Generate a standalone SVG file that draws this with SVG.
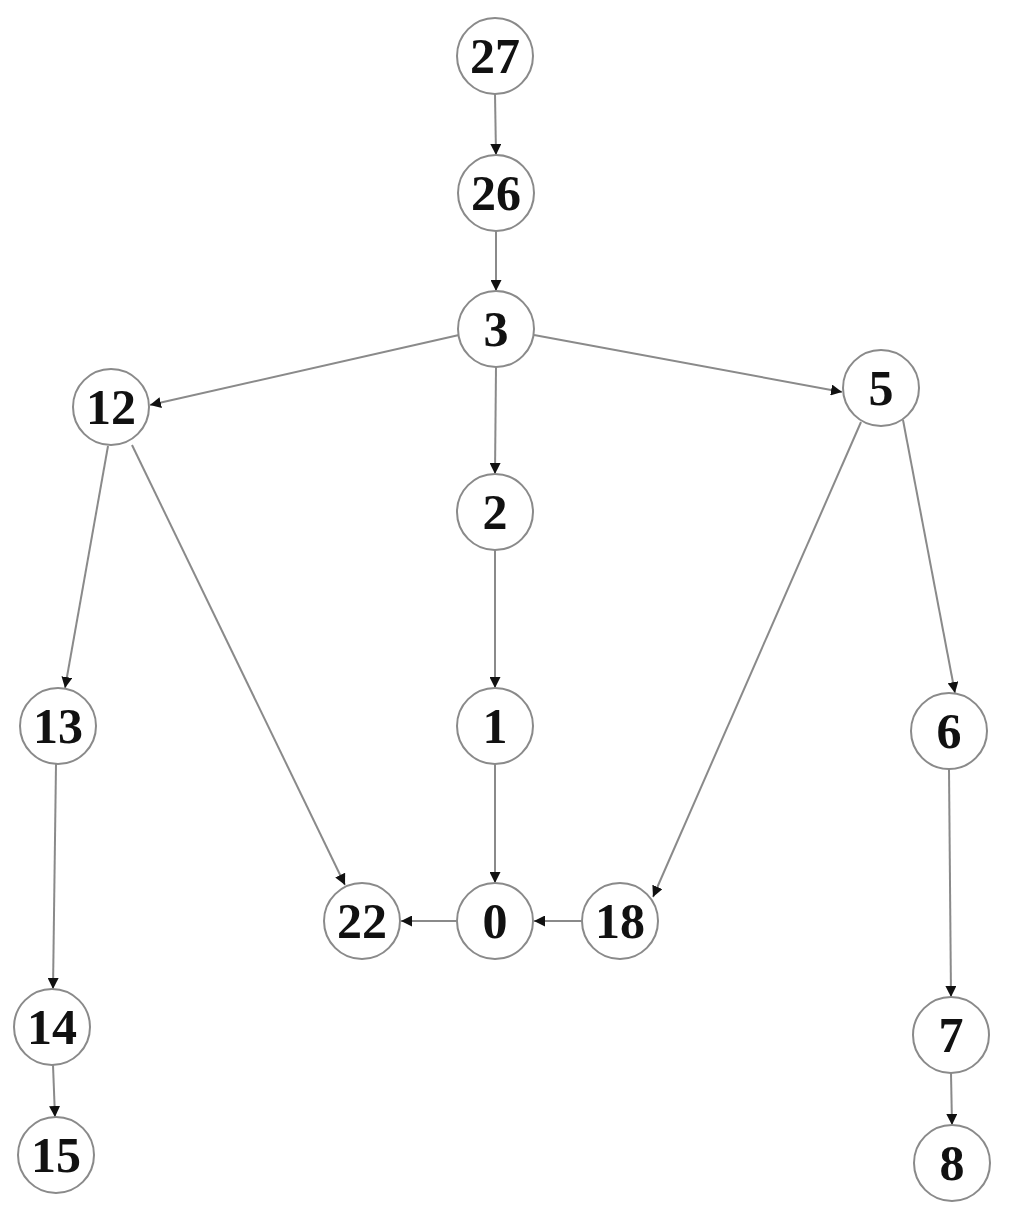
<svg xmlns="http://www.w3.org/2000/svg" width="1015" height="1217" viewBox="0 0 1015 1217">
<style>
.node circle{fill:#fff;stroke:#8a8a8a;stroke-width:2}
.node text{font-family:"Liberation Serif","Times New Roman",serif;font-weight:bold;font-size:50px;fill:#111;text-anchor:middle}
.edges line{stroke:#8a8a8a;stroke-width:2;marker-end:url(#arr)}
</style>
<defs>
<marker id="arr" markerUnits="userSpaceOnUse" markerWidth="11" markerHeight="11" refX="11" refY="5.5" orient="auto">
<path d="M0,0 L11,5.5 L0,11 z" fill="#111"/>
</marker>
</defs>
<rect width="1015" height="1217" fill="#fff"/>
<g id="connectors" class="edges">
<line x1="495" y1="94" x2="496" y2="155"/>
<line x1="496" y1="231" x2="496" y2="291"/>
<line x1="459" y1="335" x2="150" y2="405"/>
<line x1="534" y1="335" x2="842" y2="392"/>
<line x1="496" y1="367" x2="495" y2="474"/>
<line x1="108" y1="446" x2="65" y2="688"/>
<line x1="132" y1="445" x2="345" y2="885"/>
<line x1="861" y1="422" x2="653" y2="897"/>
<line x1="903" y1="420" x2="955" y2="693"/>
<line x1="495" y1="550" x2="495" y2="688"/>
<line x1="495" y1="764" x2="495" y2="883"/>
<line x1="457" y1="921" x2="401" y2="921"/>
<line x1="582" y1="921" x2="534" y2="921"/>
<line x1="56" y1="764" x2="53" y2="989"/>
<line x1="53" y1="1065" x2="55" y2="1117"/>
<line x1="949" y1="769" x2="951" y2="997"/>
<line x1="951" y1="1073" x2="952" y2="1125"/>
</g>
<g id="n27" class="node"><circle cx="495" cy="56" r="38"/><text x="495" y="73">27</text></g>
<g id="n26" class="node"><circle cx="496" cy="193" r="38"/><text x="496" y="210">26</text></g>
<g id="n3" class="node"><circle cx="496" cy="329" r="38"/><text x="496" y="346">3</text></g>
<g id="n12" class="node"><circle cx="111" cy="407" r="38"/><text x="111" y="424">12</text></g>
<g id="n5" class="node"><circle cx="881" cy="388" r="38"/><text x="881" y="405">5</text></g>
<g id="n2" class="node"><circle cx="495" cy="512" r="38"/><text x="495" y="529">2</text></g>
<g id="n13" class="node"><circle cx="58" cy="726" r="38"/><text x="58" y="743">13</text></g>
<g id="n1" class="node"><circle cx="495" cy="726" r="38"/><text x="495" y="743">1</text></g>
<g id="n6" class="node"><circle cx="949" cy="731" r="38"/><text x="949" y="748">6</text></g>
<g id="n22" class="node"><circle cx="362" cy="921" r="38"/><text x="362" y="938">22</text></g>
<g id="n0" class="node"><circle cx="495" cy="921" r="38"/><text x="495" y="938">0</text></g>
<g id="n18" class="node"><circle cx="620" cy="921" r="38"/><text x="620" y="938">18</text></g>
<g id="n14" class="node"><circle cx="52" cy="1027" r="38"/><text x="52" y="1044">14</text></g>
<g id="n15" class="node"><circle cx="56" cy="1155" r="38"/><text x="56" y="1172">15</text></g>
<g id="n7" class="node"><circle cx="951" cy="1035" r="38"/><text x="951" y="1052">7</text></g>
<g id="n8" class="node"><circle cx="952" cy="1163" r="38"/><text x="952" y="1180">8</text></g>
</svg>
